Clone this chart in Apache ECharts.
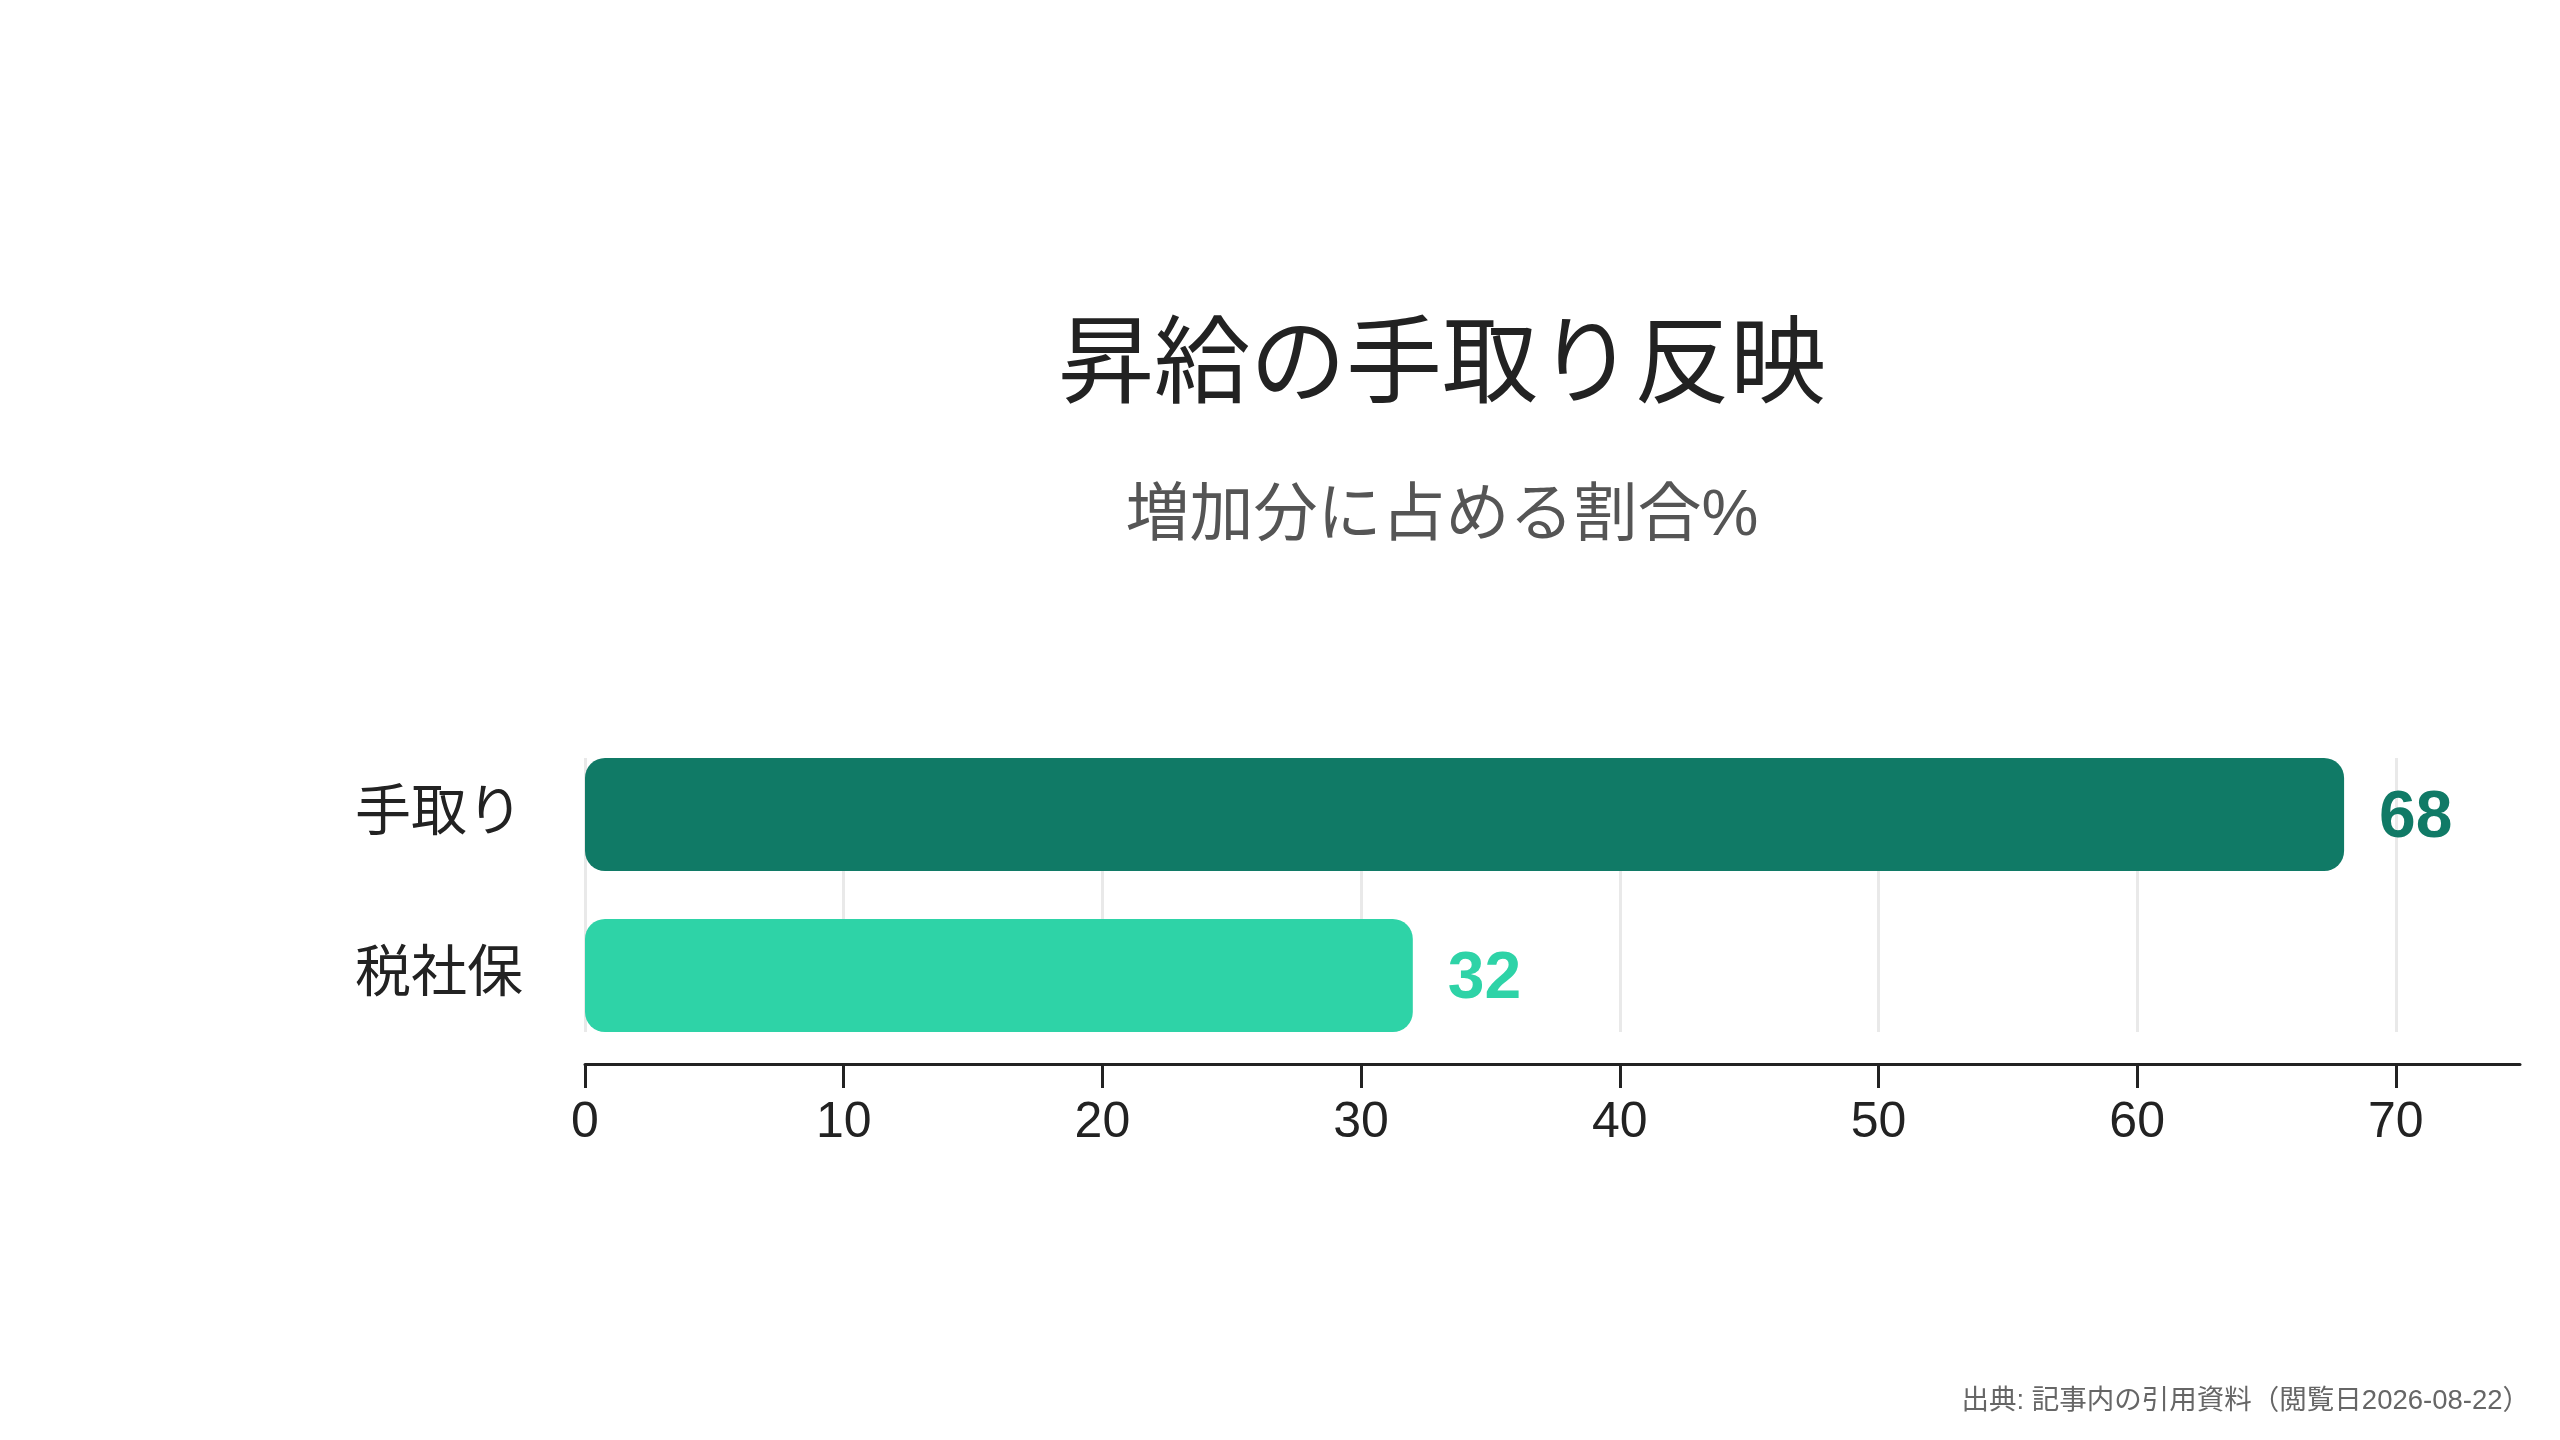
<!DOCTYPE html>
<html lang="ja">
<head>
<meta charset="utf-8">
<title>昇給の手取り反映</title>
<script src="https://cdn.jsdelivr.net/npm/echarts@6.0.0/dist/echarts.min.js"></script>
<style>
html, body { margin: 0; padding: 0; background: #fff; }
#main { width: 2560px; height: 1440px; }
</style>
</head>
<body>
<div id="main"></div>
<script>
// データ
var categories = ['手取り', '税社保'];
var shareValues = [68, 32];
var tickValues = [0, 10, 20, 30, 40, 50, 60, 70];
var axisMax = 74.8; // 最大値68の1.1倍

var titleText = '昇給の手取り反映';
var subtitleText = '増加分に占める割合%';
var sourceText = '出典: 記事内の引用資料（閲覧日2026-08-22）';

var barColors = ['#107a66', '#2ed3a7'];
var fontJP = '"Liberation Sans", "Noto Sans CJK JP", sans-serif';

var myChart = echarts.init(document.getElementById('main'));

var barData = [];
for (var i = 0; i < shareValues.length; i++) {
    barData.push({
        value: shareValues[i],
        itemStyle: { color: barColors[i] },
        label: { color: barColors[i] }
    });
}

var option = {
    backgroundColor: '#ffffff',
    animation: false,
    title: [
        {
            text: titleText,
            left: 1442, top: 321, padding: 0,
            textAlign: 'center',
            textStyle: { fontSize: 96, fontWeight: 'normal', color: '#222222', fontFamily: fontJP }
        },
        {
            text: subtitleText,
            left: 1442, top: 485, padding: 0,
            textAlign: 'center',
            textStyle: { fontSize: 64, fontWeight: 'normal', color: '#555555', fontFamily: fontJP }
        },
        {
            text: sourceText,
            left: 2530, top: 1388, padding: 0,
            textAlign: 'right',
            textStyle: { fontSize: 27.5, fontWeight: 'normal', color: '#666666', fontFamily: fontJP }
        }
    ],
    grid: [
        { left: 585, right: 40, top: 734, bottom: 384, outerBoundsMode: 'none' },
        // 目盛線だけを描くグリッド（棒の上端〜下端）
        { left: 585, right: 164, top: 758, bottom: 408, outerBoundsMode: 'none' }
    ],
    xAxis: [
        {
            type: 'value', gridIndex: 0,
            min: 0, max: axisMax,
            offset: 8,
            axisLine: { show: true, lineStyle: { color: '#222222', width: 3 } },
            axisTick: { show: true, length: 24, customValues: tickValues, lineStyle: { color: '#222222', width: 3 } },
            axisLabel: { fontSize: 50, color: '#222222', margin: 34, customValues: tickValues, fontFamily: fontJP },
            splitLine: { show: false }
        },
        {
            type: 'value', gridIndex: 1,
            min: 0, max: 70, interval: 10,
            axisLine: { show: false },
            axisTick: { show: false },
            axisLabel: { show: false },
            splitLine: { show: true, lineStyle: { color: '#e9e9e9', width: 3 } }
        }
    ],
    yAxis: [
        {
            type: 'category', gridIndex: 0,
            data: categories,
            inverse: true,
            axisLine: { show: false },
            axisTick: { show: false },
            axisLabel: { fontSize: 56, color: '#222222', margin: 62, fontFamily: fontJP },
            splitLine: { show: false }
        },
        {
            type: 'category', gridIndex: 1,
            data: categories,
            show: false
        }
    ],
    series: [
        {
            type: 'bar',
            xAxisIndex: 0, yAxisIndex: 0,
            barWidth: 113,
            data: barData,
            itemStyle: { borderRadius: 20 },
            label: {
                show: true,
                position: 'right',
                distance: 35,
                offset: [0, 4],
                fontSize: 66,
                fontWeight: 'bold',
                fontFamily: fontJP
            }
        }
    ]
};

myChart.setOption(option);
</script>
</body>
</html>
